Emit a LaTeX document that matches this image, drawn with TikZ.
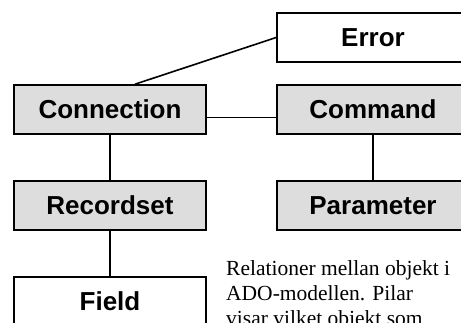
\documentclass[tikz,border=0pt]{standalone}
\usepackage{fontspec}
\setmainfont{Liberation Serif}
\newfontfamily\boxfont{Liberation Sans}
\definecolor{boxgray}{RGB}{221,221,221}
\begin{document}
\begin{tikzpicture}[x=1pt,y=-1pt,
  obj/.style={draw=black, line width=1.6pt, fill=white,
    minimum width=192pt, minimum height=49pt, inner sep=0pt,
    font=\boxfont\bfseries\fontsize{26}{30}\selectfont},
  shaded/.style={obj, fill=boxgray},
  link/.style={line width=1.6pt},
  caption/.style={anchor=base west, align=left, inner sep=0pt,
    font=\fontsize{21.5}{25}\selectfont}]
  \useasboundingbox (0,0) rectangle (461,322);
  \clip (0,0) rectangle (461,322);

  % ADO object hierarchy
  \node[obj]    (err)   at (373,37.5)  {Error};
  \node[shaded] (conn)  at (110,109.5) {Connection};
  \node[shaded] (cmd)   at (373,109.5) {Command};
  \node[shaded] (rs)    at (110,205.5) {Recordset};
  \node[shaded] (par)   at (373,205.5) {Parameter};
  \node[obj]    (field) at (110,301.5) {Field};

  % relations between the objects
  \draw[link] (err.west) -- ([xshift=25pt]conn.north);
  \draw[link] ([yshift=-8pt]conn.east) -- ([yshift=-8pt]cmd.west);
  \draw[link] (conn) -- (rs);
  \draw[link] (cmd) -- (par);
  \draw[link] (rs) -- (field);

  % caption (base anchor sits on the last line)
  \node[caption] (cap) at (226,325)
    {Relationer mellan objekt i\\ADO-modellen. Pilar\\visar vilket objekt som};
\end{tikzpicture}
\end{document}
